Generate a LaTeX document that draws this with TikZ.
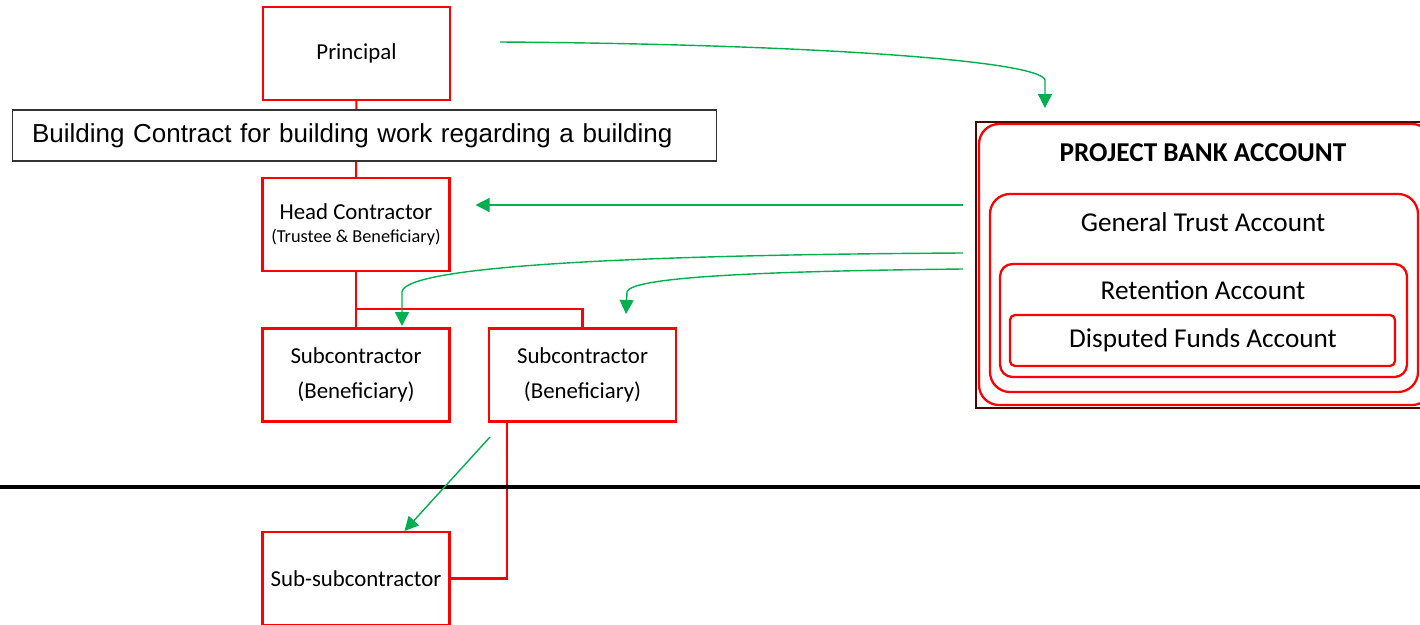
\documentclass[tikz,border=0pt]{standalone}
\usepackage{fontspec}
\setmainfont{Carlito}
\newfontfamily\arialfont{Liberation Sans}
\usetikzlibrary{arrows.meta}
\definecolor{pbred}{HTML}{FF0000}
\definecolor{pbgreen}{HTML}{00B050}
\definecolor{pbdark}{HTML}{4A0505}
\tikzset{
  party/.style={draw=pbred,line width=1.2pt,minimum width=3.74cm,minimum height=1.86cm,
    align=center,font=\fontsize{13}{20}\selectfont},
  tie/.style={draw=pbred,line width=1.2pt},
  flow/.style={draw=pbgreen,line width=0.8pt,-{Triangle[length=0.28cm,width=0.28cm]}},
  acct/.style={draw=pbred,line width=1.3pt,rounded corners=#1},
  accttext/.style={font=\fontsize{15.5}{18}\selectfont}
}

\begin{document}
\begin{tikzpicture}[x=0.02cm,y=-0.02cm]
\useasboundingbox (0,0) rectangle (1420,625);

\node [party] (principal) at (356.5,53.5) {Principal};
\node [party] (head) at (356,224.5) {Head Contractor\\[-7pt]{\fontsize{10.4}{12}\selectfont (Trustee \& Beneficiary)}};
\node [party] (subA) at (356,375) {Subcontractor\\(Beneficiary)};
\node [party] (subB) at (582.5,375) {Subcontractor\\(Beneficiary)};
\node [party] (subsub) at (356,578.5) {Sub-subcontractor};

\coordinate (split) at (356,309);
\draw [tie] (principal) -- (head);
\draw [tie] (head) -- (split) -| (subB);
\draw [tie] (split) -- (subA);
\draw [tie] ([xshift=0.38cm]subB.south west) |- (subsub.east);

\node [draw=black!80,line width=0.6pt,fill=white,text width=13.3cm,inner xsep=0.4cm,
  minimum height=1.02cm,align=left,font=\arialfont\fontsize{14.8}{18}\selectfont]
  (contract) at (364.5,135.5) {\raisebox{-2pt}{Building Contract for building work regarding a building}};

\coordinate (divL) at (0,487);
\coordinate (divR) at (1420,487);
\draw [line width=2.8pt] (divL) -- (divR);

\draw [pbdark,line width=0.8pt] (976,122) rectangle (1432,408);
\draw [acct=0.4cm] (979,124) rectangle (1432,405);
\draw [acct=0.4cm] (990,194) rectangle (1418,392);
\draw [acct=0.25cm] (1000,264) rectangle (1407,377);
\draw [acct=0.1cm] (1010,315) rectangle (1395,366);
\node [accttext,font=\bfseries\fontsize{15.5}{18}\selectfont] (pba) at (1203,153) {PROJECT BANK ACCOUNT};
\node [accttext] (gta) at (1203,222) {General Trust Account};
\node [accttext] (ret) at (1203,290) {Retention Account};
\node [accttext] (dfa) at (1203,340) {Disputed Funds Account};

\coordinate (payIn) at (500,42);
\coordinate (pbaTop) at (1045,108);
\coordinate (outHead) at (963,205);
\coordinate (outA) at (963,253);
\coordinate (outB) at (963,269);
\coordinate (fromB) at (490,437);
\draw [flow] (payIn) .. controls (800,44) and (1040,60) .. (1045,80) -- (pbaTop);
\draw [flow] (outHead) -- ([xshift=0.5cm]head.east |- outHead);
\draw [flow] (outA) .. controls (600,255) and (404,268) .. (402,292) -- (402,326);
\draw [flow] (outB) .. controls (780,271) and (630,276) .. (627,292) -- (626,314);
\draw [flow] (fromB) -- ([xshift=0.97cm]subsub.north);

\end{tikzpicture}
\end{document}
